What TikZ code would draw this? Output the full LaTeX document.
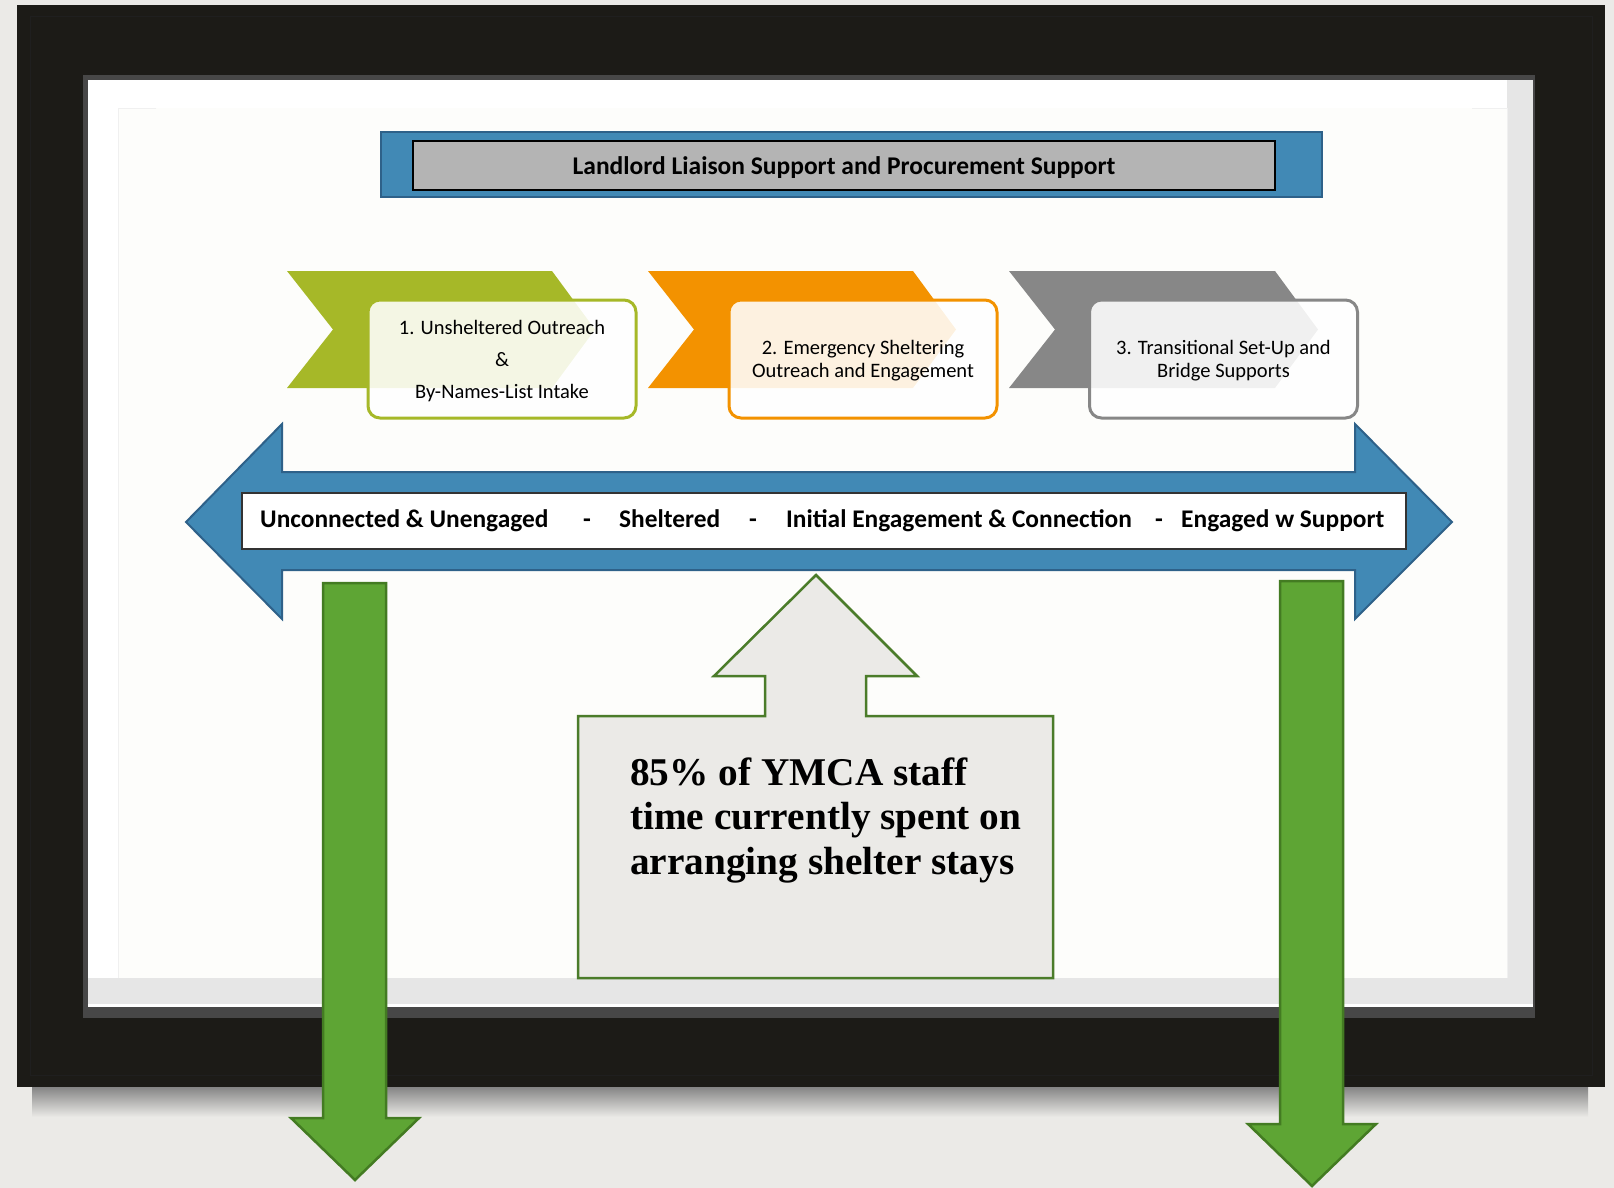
\documentclass[tikz,border=0pt]{standalone}
\usepackage{fontspec}
\setmainfont{Carlito}
\newfontfamily\calloutfont{Liberation Serif}
\definecolor{bgc}{HTML}{EBEAE7}
\definecolor{framec}{HTML}{1C1B17}
\definecolor{bandc}{HTML}{E6E6E6}
\definecolor{contentc}{HTML}{FDFDFB}
\definecolor{bluef}{HTML}{4189B5}
\definecolor{blued}{HTML}{2E6189}
\definecolor{hgray}{HTML}{B4B4B4}
\definecolor{chgreen}{HTML}{A6B828}
\definecolor{chorange}{HTML}{F39200}
\definecolor{chgray}{HTML}{878787}
\definecolor{arrgreen}{HTML}{5EA534}
\definecolor{arrgreend}{HTML}{437B22}
\definecolor{callf}{HTML}{EBEAE7}
\definecolor{calld}{HTML}{4B7C2A}
\tikzset{
  stagebox/.style={draw=#1, line width=3pt, rounded corners=12pt, fill=white, fill opacity=0.88, text opacity=1,
    minimum width=268pt, minimum height=118pt, inner sep=0pt, align=center, text=black},
  boxfont/.style={font=\fontsize{20.5}{#1}\selectfont},
  greenarrow/.style={fill=arrgreen, draw=arrgreend, line width=2.5pt, line join=miter},
  stagetext/.style={font=\bfseries\fontsize{25.4}{29}\selectfont, inner sep=0pt},
  callouttext/.style={font=\calloutfont\bfseries\fontsize{39.3}{44.5}\selectfont, anchor=base west, inner sep=0pt},
}
\begin{document}
\begin{tikzpicture}[x=1pt,y=-1pt]
\useasboundingbox (0,0) rectangle (1614,1188);
\fill[bgc] (0,0) rectangle (1614,1188);
% shadow under frame
\shade[top color=black!48, bottom color=bgc] (32,1087) rectangle (1588,1117);
% frame
\fill[framec] (17,5) rectangle (1605,1087);
\draw[black!88!white, line width=1pt] (30,17) rectangle (1592,1075);
\fill[black!72] (83,75) rectangle (1535,1018);
\fill[white] (88,80) rectangle (1533,1007);
\fill[bandc] (1507,80) rectangle (1533,1004);
\fill[bandc] (88,978) rectangle (1533,1004);
\fill[contentc] (118,108) rectangle (1507,978);
\draw[black!6, line width=1pt] (156,109) -- (118,109) -- (118,978);
\draw[black!6, line width=1pt] (1472,109) -- (1507,109) -- (1507,978);

% header
\node[fill=bluef, draw=blued, line width=2pt, minimum width=941pt, minimum height=65pt, inner sep=0pt]
  (hdrblue) at (851.5,164.5) {};
\node[fill=hgray, draw=black, line width=2.5pt, minimum width=862pt, minimum height=49pt, inner sep=0pt]
  (hdrgray) at (844,165.5) {};
\node[font=\bfseries\fontsize{25.5}{29}\selectfont, anchor=base, inner sep=0pt] (hdrtext) at (844,175)
  {Landlord Liaison Support and Procurement Support};

% chevrons
\fill[chgreen] (287,271) -- (552,271) -- (595,329.5) -- (552,388) -- (287,388) -- (333,329.5) -- cycle;
\fill[chorange] (648,271) -- (913,271) -- (956,329.5) -- (913,388) -- (648,388) -- (694,329.5) -- cycle;
\fill[chgray] (1009,271) -- (1275,271) -- (1318,329.5) -- (1275,388) -- (1009,388) -- (1055,329.5) -- cycle;

% stage boxes
\node[stagebox=chgreen, boxfont=32] (s1) at (502,359) {};
\node[boxfont=32, align=center, inner sep=0pt] (s1t) at (502,361) {1. Unsheltered Outreach\\\&\\By-Names-List Intake};
\node[stagebox=chorange, boxfont=23] (s2) at (863,359) {};
\node[boxfont=23, align=center, inner sep=0pt] (s2t) at (863,361) {2. Emergency Sheltering\\Outreach and Engagement};
\node[stagebox=chgray, boxfont=23] (s3) at (1223.5,359) {};
\node[boxfont=23, align=center, inner sep=0pt] (s3t) at (1223.5,361) {3. Transitional Set-Up and\\Bridge Supports};

% double arrow
\draw[fill=bluef, draw=blued, line width=2pt, line join=miter]
  (186,522) -- (282,424) -- (282,472) -- (1355,472) -- (1355,424) -- (1452,522)
  -- (1355,619) -- (1355,570) -- (282,570) -- (282,619) -- cycle;
\node[fill=white, draw=black!80, line width=1.5pt, minimum width=1164pt, minimum height=56pt, inner sep=0pt]
  (stagebar) at (824,521) {};
\node[stagetext, anchor=base west] (t1) at (260,527) {Unconnected \& Unengaged};
\node[stagetext, anchor=base] (d1) at (587,527) {-};
\node[stagetext, anchor=base west] (t2) at (619,527) {Sheltered};
\node[stagetext, anchor=base] (d2) at (753,527) {-};
\node[stagetext, anchor=base west] (t3) at (786,527) {Initial Engagement \& Connection};
\node[stagetext, anchor=base] (d3) at (1159,527) {-};
\node[stagetext, anchor=base west] (t4) at (1181,527) {Engaged w Support};

% callout
\draw[fill=callf, draw=calld, line width=2.5pt, line join=miter]
  (816,575) -- (917,676) -- (866,676) -- (866,716) -- (1053,716) -- (1053,978)
  -- (578,978) -- (578,716) -- (765,716) -- (765,676) -- (714,676) -- cycle;
\node[callouttext] (c1) at (630,785) {85\% of YMCA staff};
\node[callouttext] (c2) at (630,829.5) {time currently spent on};
\node[callouttext] (c3) at (630,874) {arranging shelter stays};

% green down arrows
\draw[greenarrow] (323,583) -- (386,583) -- (386,1118) -- (419,1118) -- (355,1180) -- (291,1118) -- (323,1118) -- cycle;
\draw[greenarrow] (1280,581) -- (1343,581) -- (1343,1124) -- (1376,1124) -- (1312,1186) -- (1248,1124) -- (1280,1124) -- cycle;
\end{tikzpicture}
\end{document}
